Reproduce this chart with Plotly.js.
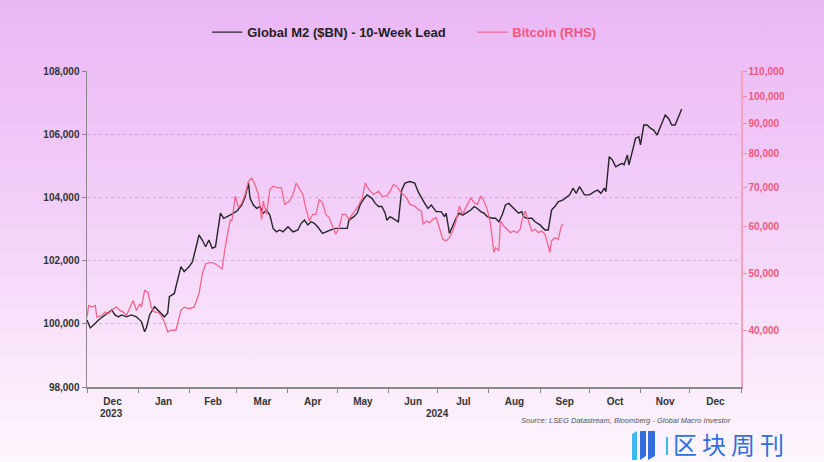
<!DOCTYPE html>
<html>
<head>
<meta charset="utf-8">
<script src="https://cdn.plot.ly/plotly-3.0.1.min.js"></script>
<style>
  html, body { margin: 0; padding: 0; }
  #wrap { position: relative; width: 824px; height: 462px; overflow: hidden;
    background: linear-gradient(to bottom, #eab7f5 0%, #f2cff8 45%, #fae9fb 80%, #fdf6fd 100%); }
  #chart { position: absolute; left: 0; top: 0; width: 824px; height: 462px; }
  #wm { position: absolute; left: 673px; top: 430px; height: 28px; line-height: 28px;
    font-family: 'Noto Sans CJK SC', sans-serif; font-size: 24px; letter-spacing: 5px;
    color: #2f6fe0; white-space: nowrap; }
</style>
</head>
<body>
<div id="wrap">
<div id="chart"></div>
<div id="wm">区块周刊</div>
</div>
<script>
// ---- Global M2 ($BN), 10-week lead (left axis) ----
const m2Dates = [
  '2023-12-01','2023-12-03','2023-12-05','2023-12-08','2023-12-12','2023-12-16','2023-12-18','2023-12-20','2023-12-22','2023-12-25','2023-12-28','2023-12-31',
  '2024-01-03','2024-01-05','2024-01-06','2024-01-08','2024-01-11','2024-01-14','2024-01-17','2024-01-19','2024-01-20','2024-01-23','2024-01-25','2024-01-27','2024-01-29',
  '2024-02-01','2024-02-03','2024-02-05','2024-02-07','2024-02-09','2024-02-11','2024-02-13','2024-02-15','2024-02-17','2024-02-20','2024-02-22','2024-02-24','2024-02-27',
  '2024-03-01','2024-03-04','2024-03-06','2024-03-08','2024-03-09','2024-03-11','2024-03-13','2024-03-15','2024-03-17','2024-03-19','2024-03-21','2024-03-23','2024-03-25','2024-03-27','2024-03-29',
  '2024-04-01','2024-04-04','2024-04-07','2024-04-09','2024-04-11','2024-04-13','2024-04-15','2024-04-17','2024-04-19','2024-04-22','2024-04-24','2024-04-27','2024-04-30',
  '2024-05-03','2024-05-07','2024-05-08','2024-05-11','2024-05-13','2024-05-15','2024-05-17','2024-05-19','2024-05-22','2024-05-24','2024-05-26','2024-05-28','2024-05-30','2024-05-31',
  '2024-06-02','2024-06-05','2024-06-07','2024-06-09','2024-06-11','2024-06-14','2024-06-17','2024-06-19','2024-06-21','2024-06-23','2024-06-25','2024-06-27','2024-06-30',
  '2024-07-03','2024-07-05','2024-07-06','2024-07-08','2024-07-10','2024-07-12','2024-07-14','2024-07-16','2024-07-18','2024-07-21','2024-07-23','2024-07-25','2024-07-27','2024-07-29','2024-07-31',
  '2024-08-03','2024-08-05','2024-08-07','2024-08-09','2024-08-11','2024-08-13','2024-08-15','2024-08-17','2024-08-19','2024-08-21','2024-08-22','2024-08-24','2024-08-27','2024-08-29',
  '2024-09-01','2024-09-04','2024-09-06','2024-09-08','2024-09-10','2024-09-12','2024-09-15','2024-09-19','2024-09-21','2024-09-23','2024-09-25','2024-09-28',
  '2024-10-01','2024-10-04','2024-10-06','2024-10-08','2024-10-10','2024-10-11','2024-10-13','2024-10-15','2024-10-17','2024-10-19','2024-10-21','2024-10-22','2024-10-24','2024-10-25','2024-10-27','2024-10-29','2024-10-31',
  '2024-11-01','2024-11-03','2024-11-05','2024-11-07','2024-11-09','2024-11-11','2024-11-14','2024-11-16','2024-11-18','2024-11-20','2024-11-22','2024-11-24','2024-11-26'
];
const m2Values = [
  100120, 99870, 99960, 100120, 100280, 100440, 100280, 100220, 100280, 100220, 100280, 100220,
  100070, 99750, 99870, 100280, 100540, 100380, 100220, 100340, 100860, 100960, 101390, 101810, 101650,
  101810, 101960, 102440, 102810, 102650, 102440, 102650, 102390, 102440, 103500, 103340, 103390, 103470,
  103570, 103760, 104020, 104450, 103970, 103760, 103650, 103710, 103500, 103600, 103440, 103020, 102910, 102970, 102910,
  103070, 102910, 102970, 103180, 103280, 103130, 103230, 103180, 103070, 102860, 102910, 102970, 103020,
  103020, 103020, 103280, 103390, 103500, 103790, 103950, 104080, 103970, 103810, 103710, 103710, 103500, 103280,
  103390, 103280, 103230, 104230, 104450, 104500, 104450, 104180, 103970, 103810, 103650, 103760, 103550,
  103550, 103390, 103500, 102860, 103130, 103340, 103500, 103440, 103500, 103600, 103710, 103650, 103550, 103500, 103390,
  103340, 103340, 103230, 103440, 103760, 103810, 103710, 103600, 103500, 103550, 103390, 103340, 103340, 103230,
  103130, 102970, 102970, 103600, 103710, 103860, 103920, 104080, 104290, 104130, 104340, 104080,
  104080, 104180, 104230, 104130, 104290, 104180, 105290, 105180, 104970, 105030, 105080, 105030, 105340, 105030, 105500, 105870, 105920,
  105660, 106290, 106290, 106190, 106130, 105970, 106350, 106610, 106500, 106290, 106290, 106550, 106800
];

// ---- Bitcoin price (right axis, log) ----
const btcDates = [
  '2023-12-01','2023-12-02','2023-12-04','2023-12-06','2023-12-07','2023-12-10','2023-12-12','2023-12-14','2023-12-17','2023-12-19','2023-12-21','2023-12-23','2023-12-25','2023-12-27','2023-12-29','2023-12-31',
  '2024-01-02','2024-01-03','2024-01-05','2024-01-07','2024-01-09','2024-01-11','2024-01-13','2024-01-15','2024-01-17','2024-01-19','2024-01-21','2024-01-24','2024-01-27','2024-01-29',
  '2024-02-01','2024-02-04','2024-02-07','2024-02-09','2024-02-11','2024-02-14','2024-02-17','2024-02-21','2024-02-23','2024-02-26','2024-02-27','2024-02-29',
  '2024-03-02','2024-03-04','2024-03-06','2024-03-08','2024-03-10','2024-03-12','2024-03-14','2024-03-16','2024-03-17','2024-03-19','2024-03-21','2024-03-23','2024-03-26','2024-03-28','2024-03-30',
  '2024-04-02','2024-04-04','2024-04-06','2024-04-08','2024-04-10','2024-04-12','2024-04-14','2024-04-16','2024-04-18','2024-04-20','2024-04-22','2024-04-24','2024-04-26','2024-04-28','2024-04-30',
  '2024-05-02','2024-05-04','2024-05-06','2024-05-08','2024-05-10','2024-05-13','2024-05-16','2024-05-18','2024-05-20','2024-05-23','2024-05-26','2024-05-28','2024-05-31',
  '2024-06-02','2024-06-04','2024-06-06','2024-06-08','2024-06-10','2024-06-12','2024-06-14','2024-06-17','2024-06-19','2024-06-21','2024-06-22','2024-06-24','2024-06-26','2024-06-28','2024-06-30',
  '2024-07-02','2024-07-04','2024-07-06','2024-07-08','2024-07-10','2024-07-12','2024-07-14','2024-07-16','2024-07-19','2024-07-21','2024-07-23','2024-07-25','2024-07-27','2024-07-29','2024-07-31',
  '2024-08-02','2024-08-04','2024-08-05','2024-08-07','2024-08-08','2024-08-10','2024-08-12','2024-08-14','2024-08-16','2024-08-18','2024-08-20','2024-08-21','2024-08-23','2024-08-25','2024-08-27','2024-08-29','2024-08-31',
  '2024-09-02','2024-09-04','2024-09-06','2024-09-07','2024-09-08','2024-09-10','2024-09-12','2024-09-14','2024-09-15'
];
const btcValues = [
  42140, 44100, 43810, 44100, 42140, 42420, 42970, 42700, 43540, 43810, 43250, 42970, 42420, 43540, 44970, 43250,
  44390, 43810, 46750, 46440, 43810, 42970, 42970, 42420, 41330, 39750, 40020, 40020, 43250, 43810,
  43540, 43810, 46150, 49890, 51870, 52190, 51870, 50880, 55670, 61770, 61370, 67660,
  64640, 65910, 68090, 71710, 72630, 70790, 68090, 61770, 66340, 63000, 69440, 70340, 69870, 69870, 65500,
  66340, 68090, 71230, 69440, 68090, 64240, 61370, 63000, 63000, 66780, 65910, 63000, 62160, 60190, 58280,
  59790, 63000, 63000, 61770, 63000, 64640, 67000, 71230, 69440, 68090, 68980, 67660, 67660,
  68980, 70790, 70340, 68980, 68090, 67200, 65500, 65070, 64240, 63810, 60590, 61370, 60970, 61770, 62160,
  59420, 57150, 56770, 57500, 59030, 61370, 65070, 63000, 65500, 67200, 65910, 65500, 67660, 66340, 64240,
  60590, 54260, 55300, 54620, 61370, 60190, 59420, 58640, 59030, 58640, 59420, 61370, 63810, 61370, 59030, 59420, 58640,
  59030, 58280, 55670, 54260, 56770, 57500, 57150, 60190, 60590
];

// ---- Axis ticks ----
const leftTicks = [98000, 100000, 102000, 104000, 106000, 108000];
const rightTicks = [40000, 50000, 60000, 70000, 80000, 90000, 100000, 110000];
const yearLabels = ['2023', '2024'];
const yearLabelDates = ['2023-12-16', '2024-07-01'];

const FONT = 'Liberation Sans, Arial, sans-serif';
const PINK = '#f0577f';
const fmt = v => v.toLocaleString('en-US');

const traces = [
  { x: m2Dates, y: m2Values, type: 'scatter', mode: 'lines',
    name: 'Global M2 ($BN) - 10-Week Lead\u00a0\u00a0\u00a0\u00a0\u00a0\u00a0',
    line: { color: '#262626', width: 1.4 }, yaxis: 'y' },
  { x: btcDates, y: btcValues, type: 'scatter', mode: 'lines',
    name: '<span style="color:' + PINK + '">Bitcoin (RHS)</span>',
    line: { color: '#f2668c', width: 1.3 }, yaxis: 'y2' }
];

const annotations = yearLabels.map((t, i) => ({
  text: t, x: yearLabelDates[i], xref: 'x', y: -0.083, yref: 'paper',
  showarrow: false, xanchor: 'center', yanchor: 'middle',
  font: { family: FONT, size: 10, color: '#333', weight: 'bold' }
}));

const px = p => (p - 87) / 654;
const py = p => (387 - p) / 316;

annotations.push({
  text: 'Source: LSEG Datastream, Bloomberg - Global Macro Investor',
  xref: 'paper', yref: 'paper', x: px(733), y: py(421), xanchor: 'right', yanchor: 'middle',
  showarrow: false, font: { family: FONT, size: 7.5, color: '#555', style: 'italic' }
});

const shapes = [
  { type: 'path', xref: 'paper', yref: 'paper',
    path: `M ${px(632)} ${py(460)} L ${px(637)} ${py(460)} L ${px(637)} ${py(431)} L ${px(632)} ${py(434)} Z`,
    fillcolor: '#3fb8f0', line: { width: 0 } },
  { type: 'path', xref: 'paper', yref: 'paper',
    path: `M ${px(640)} ${py(460)} L ${px(646)} ${py(456)} L ${px(646)} ${py(431)} L ${px(640)} ${py(431)} Z`,
    fillcolor: '#2f6fe0', line: { width: 0 } },
  { type: 'path', xref: 'paper', yref: 'paper',
    path: `M ${px(648)} ${py(460)} L ${px(655)} ${py(456)} L ${px(655)} ${py(431)} L ${px(648)} ${py(431)} Z`,
    fillcolor: '#2f6fe0', line: { width: 0 } },
  { type: 'rect', xref: 'paper', yref: 'paper', x0: px(666), x1: px(668), y0: py(455), y1: py(437), fillcolor: '#3fb8f0', line: { width: 0 } }
];

const layout = {
  width: 824, height: 462,
  margin: { l: 87, r: 83, t: 71, b: 75 },
  paper_bgcolor: 'rgba(0,0,0,0)', plot_bgcolor: 'rgba(0,0,0,0)',
  font: { family: FONT },
  showlegend: true,
  legend: { orientation: 'h', x: 0.485, xanchor: 'center', y: 1.123, yanchor: 'middle',
    font: { family: FONT, size: 13, color: '#222', weight: 'bold' }, bgcolor: 'rgba(0,0,0,0)' },
  xaxis: {
    type: 'date', range: ['2023-12-01', '2025-01-01'],
    tick0: '2023-12-01', dtick: 'M1', ticklabelmode: 'period', tickformat: '%b',
    ticks: 'outside', ticklen: 4, tickcolor: '#888', showline: true, linecolor: '#8a8a8a', linewidth: 1.5,
    showgrid: false, zeroline: false,
    tickfont: { family: FONT, size: 10, color: '#333', weight: 'bold' }
  },
  yaxis: {
    range: [98000, 108000], tickvals: leftTicks, ticktext: leftTicks.map(fmt),
    ticks: 'outside', ticklen: 4, tickcolor: '#888', showline: true, linecolor: '#8a8a8a', linewidth: 1.5,
    showgrid: true, gridcolor: 'rgba(185,155,195,0.65)', griddash: 'dot', gridwidth: 1, zeroline: false,
    tickfont: { family: FONT, size: 10, color: '#333', weight: 'bold' }
  },
  yaxis2: {
    overlaying: 'y', side: 'right', type: 'log',
    range: [Math.log10(32050), Math.log10(110400)],
    tickvals: rightTicks, ticktext: rightTicks.map(fmt),
    ticks: 'outside', ticklen: 4, tickcolor: '#f38aab', showline: true, linecolor: '#f5a3bf', linewidth: 1.5,
    showgrid: false, zeroline: false,
    tickfont: { family: FONT, size: 10, color: PINK, weight: 'bold' }
  },
  annotations: annotations,
  shapes: shapes
};

Plotly.newPlot('chart', traces, layout, { displayModeBar: false, staticPlot: true });
</script>
</body>
</html>
